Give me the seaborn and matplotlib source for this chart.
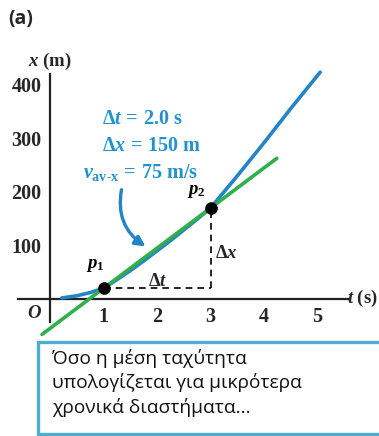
import matplotlib
matplotlib.use("Agg")
import matplotlib.pyplot as plt
import pandas as pd
import seaborn as sns
from matplotlib.patches import Rectangle

# Position-time curve of the moving object
t_curve = [0.22, 0.5, 0.75, 1.0, 1.25, 1.5, 1.75, 2.0, 2.25, 2.5, 2.75, 3.0, 3.5, 4.0, 4.5, 5.05]
x_curve = [2, 6, 12, 20, 36, 53, 71, 90, 109, 129, 149, 170, 230, 292, 356, 424]

# The two instants that bound the interval
t_points = [1.0, 3.0]
x_points = [20, 170]
point_labels = [r"$p_1$", r"$p_2$"]

# Time span covered by the secant (average-velocity) line
t_secant = [-0.15, 4.24]

x_ticks = [1, 2, 3, 4, 5]
y_ticks = [100, 200, 300, 400]

box_lines = ["Όσο η μέση ταχύτητα",
             "υπολογίζεται για μικρότερα",
             "χρονικά διαστήματα..."]

BLUE = "#2384c6"
GREEN = "#2fb04c"
TEXT_BLUE = "#2292cf"
AXIS = "#222222"

sns.set_style("white")
plt.rcParams.update({
    "font.family": ["Liberation Serif", "DejaVu Serif"],
    "font.weight": "bold",
    "mathtext.fontset": "custom",
    "mathtext.rm": "Liberation Serif:bold",
    "mathtext.it": "Liberation Serif:italic:bold",
    "mathtext.bf": "Liberation Serif:bold",
})

W, H = 379, 436
fig = plt.figure(figsize=(W / 100, H / 100), dpi=100)
ax = fig.add_axes([0, 0, 1, 1])
ax.patch.set_alpha(0)

# 53.5 px per second and per 100 m, origin at pixel (50, 299)
ax.set_xlim(-50 / 53.5, (W - 50) / 53.5)
ax.set_ylim(-(H - 299) / 0.535, 299 / 0.535)

# Derived interval quantities
dt = t_points[1] - t_points[0]
dx = x_points[1] - x_points[0]
v_av = dx / dt
x_secant = [x_points[0] + v_av * (t - t_points[0]) for t in t_secant]

curve_df = pd.DataFrame({"t": t_curve, "x": x_curve})
secant_df = pd.DataFrame({"t": t_secant, "x": x_secant})
pts_df = pd.DataFrame({"t": t_points, "x": x_points})

sns.lineplot(data=curve_df, x="t", y="x", ax=ax, color=BLUE, lw=2.6,
             sort=False, solid_capstyle="round", zorder=3)
sns.lineplot(data=secant_df, x="t", y="x", ax=ax, color=GREEN, lw=2.6,
             solid_capstyle="round", zorder=4)

# Dashed construction lines for Δt and Δx
ax.plot([t_points[0], t_points[1]], [x_points[0], x_points[0]],
        ls=(0, (4, 3)), color="black", lw=1.2, zorder=2)
ax.plot([t_points[1], t_points[1]], [x_points[0], x_points[1]],
        ls=(0, (4, 3)), color="black", lw=1.2, zorder=2)

sns.scatterplot(data=pts_df, x="t", y="x", ax=ax, color="black", s=70,
                edgecolor="black", zorder=6)

for (t, x), lab, off in zip(zip(t_points, x_points), point_labels,
                            [(-6, 10), (-10, 6)]):
    ax.annotate(lab, (t, x), xytext=off, textcoords="offset points",
                ha="center", va="bottom", fontsize=13.5, color="black")

# Axes drawn through the origin
for side in ["top", "right"]:
    ax.spines[side].set_visible(False)
ax.spines["left"].set_position(("data", 0))
ax.spines["bottom"].set_position(("data", 0))
ax.spines["left"].set_bounds(-43, 420)
ax.spines["bottom"].set_bounds(-0.6, 5.6)
for side in ["left", "bottom"]:
    ax.spines[side].set_linewidth(1.6)
    ax.spines[side].set_color(AXIS)
    ax.spines[side].set_zorder(1)

ax.set_xticks(x_ticks)
ax.set_yticks(y_ticks)
ax.set_xticklabels([str(v) for v in x_ticks])
ax.set_yticklabels([str(v) for v in y_ticks])
ax.tick_params(direction="in", length=8, width=1.4, color=AXIS,
               labelsize=14.5, pad=6)
ax.set_xlabel("")
ax.set_ylabel("")

def fig_xy(px, py):
    return px / W, 1 - py / H

tf = fig.transFigure
fig.text(*fig_xy(50, 61), r"$x$ (m)", ha="center", va="center", fontsize=13.5)
fig.text(*fig_xy(362, 298), r"$t$ (s)", ha="center", va="center", fontsize=13.5)
fig.text(*fig_xy(35, 313), r"$O$", ha="center", va="center", fontsize=13.5)
fig.text(*fig_xy(158, 282), r"$\Delta t$", ha="center", va="center", fontsize=13.5)
fig.text(*fig_xy(226, 253), r"$\Delta x$", ha="center", va="center", fontsize=13.5)
fig.text(*fig_xy(21, 19), "(a)", ha="center", va="center", fontsize=14,
         family="Open Sans", weight="bold")

fig.text(*fig_xy(102, 119), rf"$\Delta t\,=\,{dt:.1f}$ s", ha="left",
         va="center", fontsize=14.5, color=TEXT_BLUE)
fig.text(*fig_xy(102, 146), rf"$\Delta x\,=\,{dx:.0f}$ m", ha="left",
         va="center", fontsize=14.5, color=TEXT_BLUE)
fig.text(*fig_xy(83, 172), rf"$v_{{\text{{av-x}}}}\,=\,{v_av:.0f}$ m/s",
         ha="left", va="center", fontsize=14.5, color=TEXT_BLUE)

# Curved pointer from the label to the secant line
ax.annotate("", xy=((148 - 50) / 53.5, (299 - 248) / 0.535),
            xytext=((122 - 50) / 53.5, (299 - 187) / 0.535),
            arrowprops=dict(arrowstyle="-|>,head_length=0.6,head_width=0.3",
                            color=BLUE, lw=2.4,
                            connectionstyle="arc3,rad=0.35"), zorder=5)

# Caption box
x0, y0 = fig_xy(38, 342)
x1, y1 = fig_xy(386, 434)
fig.patches.append(Rectangle((x0, y1), x1 - x0, y0 - y1, transform=tf,
                             facecolor="white", edgecolor="#4eadd1",
                             lw=2.4, zorder=10))
for i, line in enumerate(box_lines):
    fig.text(*fig_xy(52, 358 + 24.5 * i), line, ha="left", va="center",
             fontsize=13.8, family="Open Sans", weight="normal",
             color="#111111", zorder=11)

fig.savefig("out.png", dpi=100)
